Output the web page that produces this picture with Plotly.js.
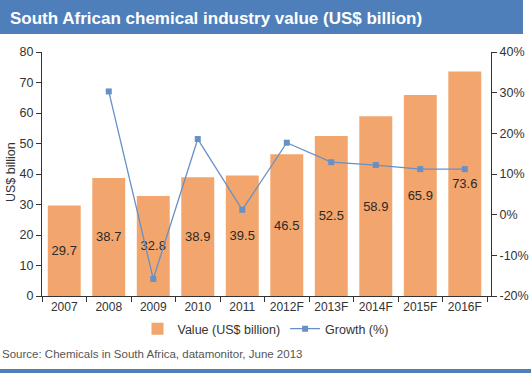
<!DOCTYPE html>
<html>
<head>
<meta charset="utf-8">
<script src="https://cdn.plot.ly/plotly-3.0.1.min.js"></script>
<style>
html,body{margin:0;padding:0;background:#fff;}
#chart{width:531px;height:373px;}
</style>
</head>
<body>
<div id="chart"></div>
<script>
var categories = ["2007","2008","2009","2010","2011","2012F","2013F","2014F","2015F","2016F"];
var values = [29.7, 38.7, 32.8, 38.9, 39.5, 46.5, 52.5, 58.9, 65.9, 73.6];
var growthCategories = ["2008","2009","2010","2011","2012F","2013F","2014F","2015F","2016F"];
var growth = [30.3, -15.8, 18.6, 1.2, 17.7, 12.9, 12.2, 11.2, 11.2];
var leftTicks = [0,10,20,30,40,50,60,70,80];
var rightTicks = [-20,-10,0,10,20,30,40];
var rightTickText = ["-20%","-10%","0%","10%","20%","30%","40%"];

var W = 531, H = 373;
var L = 42, R = 491, T = 52, B = 296;
function px(x){ return x / W; }
function py(y){ return 1 - y / H; }

var font = "Liberation Sans, Arial, sans-serif";
var barColor = "#F2A56C";
var lineColor = "#6791C5";
var bandColor = "#4E7FBA";

var traces = [
  {
    type: "bar",
    name: "Value (US$ billion)",
    x: categories,
    y: values,
    marker: {color: barColor},
    text: values.map(function(v){ return v.toFixed(1); }),
    textposition: "inside",
    insidetextanchor: "middle",
    textangle: 0,
    constraintext: "none",
    textfont: {family: font, size: 13, color: "#2a2a2a"},
    hoverinfo: "skip"
  },
  {
    type: "scatter",
    mode: "lines+markers",
    name: "Growth (%)",
    x: growthCategories,
    y: growth,
    yaxis: "y2",
    line: {color: lineColor, width: 1.3},
    marker: {symbol: "square", size: 6, color: lineColor},
    hoverinfo: "skip"
  }
];

var layout = {
  width: W, height: H,
  margin: {l: 0, r: 0, t: 0, b: 0},
  paper_bgcolor: "#fff",
  plot_bgcolor: "#fff",
  showlegend: true,
  bargap: 0.26,
  font: {family: font, size: 13, color: "#333"},
  title: {
    text: "South African chemical industry value (US$ billion)",
    x: px(10), xanchor: "left",
    y: py(18), yanchor: "middle",
    font: {family: font, size: 17, color: "#fff", weight: 700}
  },
  xaxis: {
    domain: [px(L), px(R)],
    type: "category",
    categoryorder: "array",
    categoryarray: categories,
    showline: true, linecolor: "#333", linewidth: 1,
    ticks: "outside", ticklen: 5, tickcolor: "#333",
    tickson: "boundaries",
    tickangle: 0,
    showgrid: false, zeroline: false,
    tickfont: {family: font, size: 12, color: "#333"},
    fixedrange: true
  },
  yaxis: {
    domain: [py(B), py(T)],
    range: [0, 80],
    tickvals: leftTicks,
    showline: true, linecolor: "#333", linewidth: 1,
    ticks: "outside", ticklen: 5, tickcolor: "#333",
    showgrid: false, zeroline: false,
    tickfont: {family: font, size: 12.5, color: "#333"},
    fixedrange: true
  },
  yaxis2: {
    overlaying: "y",
    side: "right",
    anchor: "x",
    range: [-20, 40],
    tickmode: "array",
    tickvals: rightTicks,
    ticktext: rightTickText,
    showline: true, linecolor: "#333", linewidth: 1,
    ticks: "outside", ticklen: 5, tickcolor: "#333",
    showgrid: false, zeroline: false,
    tickfont: {family: font, size: 12.5, color: "#333"},
    fixedrange: true
  },
  legend: {
    orientation: "h",
    x: 0.5, xanchor: "center",
    y: py(329), yanchor: "middle",
    font: {family: font, size: 12.5, color: "#333"},
    bgcolor: "rgba(0,0,0,0)",
    itemwidth: 30,
    traceorder: "normal"
  },
  shapes: [
    {type: "rect", xref: "paper", yref: "paper", x0: 0, x1: px(523), y0: py(34), y1: 1,
     fillcolor: bandColor, line: {width: 0}, layer: "below"},
    {type: "rect", xref: "paper", yref: "paper", x0: 0, x1: 1, y0: 0, y1: py(369),
     fillcolor: bandColor, line: {width: 0}, layer: "below"}
  ],
  annotations: [
    {text: "US$ billion", xref: "paper", yref: "paper", x: px(11), y: py(172),
     textangle: -90, showarrow: false, xanchor: "center", yanchor: "middle",
     font: {family: font, size: 12.5, color: "#333"}},
    {text: "Source: Chemicals in South Africa, datamonitor, June 2013", xref: "paper", yref: "paper",
     x: 0, y: py(354), xanchor: "left", yanchor: "middle", showarrow: false,
     font: {family: font, size: 11.5, color: "#555"}}
  ]
};

Plotly.newPlot("chart", traces, layout, {displayModeBar: false, staticPlot: true});
</script>
</body>
</html>
